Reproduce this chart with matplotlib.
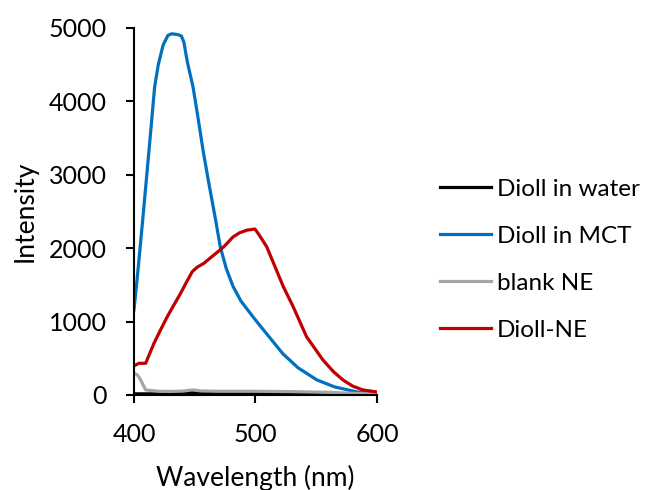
import matplotlib
matplotlib.use("Agg")
import matplotlib.pyplot as plt

# emission spectra
wl_water = [400, 415, 430, 440, 448, 455, 470, 500, 530, 560, 580, 600]
int_water = [15, 15, 18, 25, 35, 28, 22, 20, 16, 10, 6, 4]

wl_mct = [400, 403, 405, 407.4, 410, 413, 417, 420, 424, 428, 431, 436, 439, 441,
          444, 448.6, 452, 456.8, 461, 464, 467, 471, 476, 481.5, 488, 495.5, 501,
          512, 522.6, 535, 550.6, 565, 583.5, 600]
int_mct = [1160, 1650, 2000, 2425, 2900, 3450, 4196, 4500, 4768, 4900, 4920, 4910,
           4890, 4810, 4530, 4196, 3850, 3338, 2940, 2670, 2400, 2020, 1720, 1480,
           1280, 1117, 1000, 776, 560, 370, 204, 110, 41, 20]

wl_blank = [400, 403, 405.5, 408, 409.6, 420, 430, 440, 448, 455, 470, 500, 530, 560, 580, 600]
int_blank = [300, 270, 204, 120, 68, 50, 48, 52, 68, 55, 50, 50, 45, 35, 22, 12]

wl_ne = [400, 404, 409.6, 416.5, 422, 427.4, 433, 438.4, 443, 448, 452, 457.6, 465.8,
         470.8, 474, 481.5, 487, 493, 499.6, 503, 509.2, 516, 522.9, 531, 542,
         555.5, 564, 572, 580, 588.5, 600]
int_ne = [395, 431, 431, 705, 890, 1067, 1230, 1385, 1530, 1680, 1740, 1794, 1907,
          1975, 2020, 2152, 2210, 2245, 2260, 2180, 2020, 1750, 1476, 1203, 794,
          477, 320, 204, 120, 68, 40]

plt.rcParams['font.family'] = ['Lato', 'DejaVu Sans']

fig = plt.figure(figsize=(6.61, 4.9), dpi=100)
ax = fig.add_axes([0.2027, 0.194, 0.3676, 0.749])

ax.plot(wl_water, int_water, color='black', lw=2.3, label='Dioll in water')
ax.plot(wl_mct, int_mct, color='#0070C0', lw=2.3, label='Dioll in MCT')
ax.plot(wl_blank, int_blank, color='#A5A5A5', lw=2.3, label='blank NE')
ax.plot(wl_ne, int_ne, color='#C00000', lw=2.3, label='Dioll-NE')

ax.set_xlim(400, 600)
ax.set_ylim(0, 5000)
ax.set_xticks([400, 500, 600])
ax.set_yticks([0, 1000, 2000, 3000, 4000, 5000])
ax.spines['top'].set_visible(False)
ax.spines['right'].set_visible(False)
ax.spines['left'].set_linewidth(1.5)
ax.spines['bottom'].set_linewidth(1.5)
ax.tick_params(direction='out', length=5.5, width=1.5, labelsize=18)
ax.tick_params(axis='y', pad=14)
ax.tick_params(axis='x', pad=14.5)
ax.set_xlabel('Wavelength (nm)', fontsize=19, labelpad=14)
ax.set_ylabel('Intensity', fontsize=19, labelpad=8)

fig.legend(loc='center left', bbox_to_anchor=(440 / 661, 0.47), frameon=False,
           borderaxespad=0, borderpad=0, fontsize=17.5, handlelength=2.1,
           handletextpad=0.25, labelspacing=1.07)

fig.savefig('out.png', dpi=100)
